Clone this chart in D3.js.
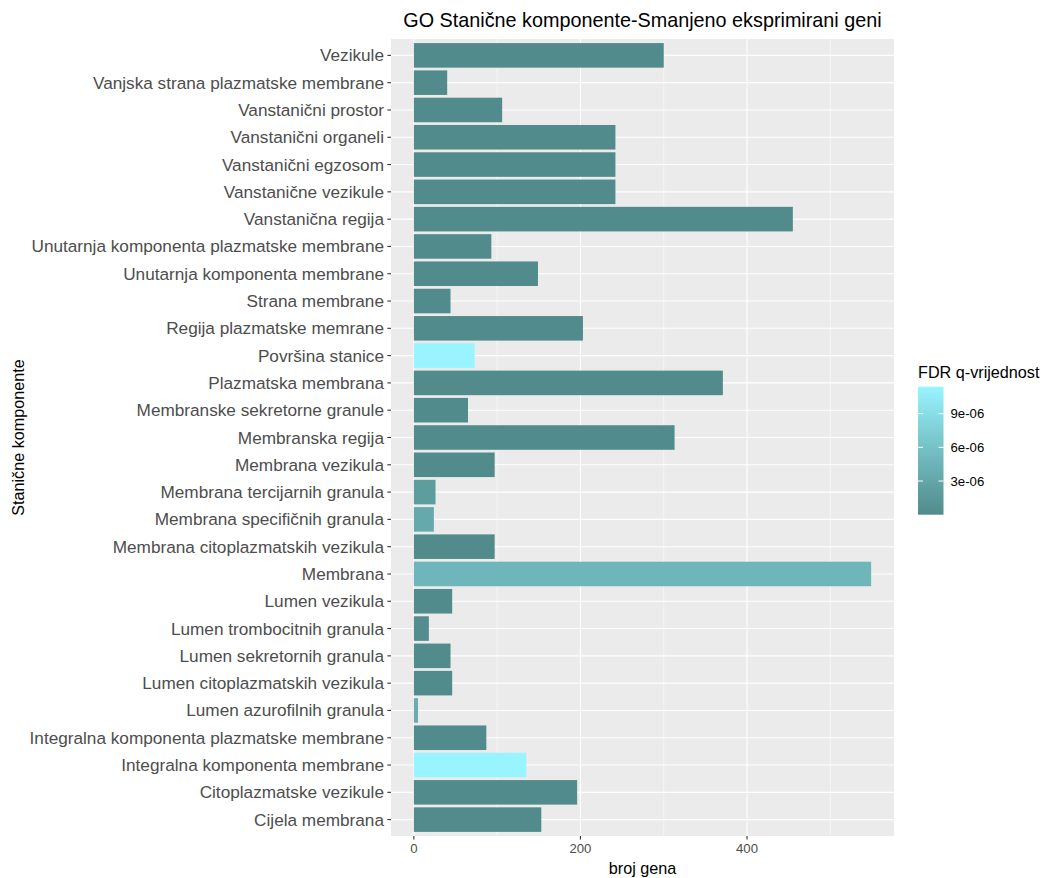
<!DOCTYPE html>
<html><head><meta charset="utf-8">
<script src="https://cdn.jsdelivr.net/npm/d3@7"></script>
<style>body{margin:0;background:#fff;} text{font-family:"Liberation Sans",Arial,sans-serif;}</style>
</head><body>
<svg id="c" width="1041" height="878"></svg>
<script>
// Categories listed top to bottom
const categories = [
  "Vezikule","Vanjska strana plazmatske membrane","Vanstanični prostor","Vanstanični organeli",
  "Vanstanični egzosom","Vanstanične vezikule","Vanstanična regija",
  "Unutarnja komponenta plazmatske membrane","Unutarnja komponenta membrane","Strana membrane",
  "Regija plazmatske memrane","Površina stanice","Plazmatska membrana","Membranske sekretorne granule",
  "Membranska regija","Membrana vezikula","Membrana tercijarnih granula","Membrana specifičnih granula",
  "Membrana citoplazmatskih vezikula","Membrana","Lumen vezikula","Lumen trombocitnih granula",
  "Lumen sekretornih granula","Lumen citoplazmatskih vezikula","Lumen azurofilnih granula",
  "Integralna komponenta plazmatske membrane","Integralna komponenta membrane",
  "Citoplazmatske vezikule","Cijela membrana"
];
const counts = [300,40,106,242,242,242,455,93,149,44,203,73,371,65,313,97,26,24,97,549,46,18,44,46,5,87,135,196,153];
const qvalues = [2e-8,3e-8,2e-8,1e-8,1e-8,1e-8,1e-9,5e-8,3e-8,4e-8,2e-8,1.14e-5,1e-9,5e-8,1e-9,3e-8,2.0e-6,3.4e-6,3e-8,4.8e-6,4e-8,2e-7,5e-8,4e-8,3.8e-6,2e-8,1.14e-5,1e-9,2e-8];
const xTicks = [0,200,400];
const xMinor = [100,300,500];
const legendTicks = [3e-6,6e-6,9e-6];
const legendLabels = ["3e-06","6e-06","9e-06"];
const qMin = 0, qMax = 1.14e-5;

const svg = d3.select("#c");
const P = {l:391, r:894, t:39, b:836};

const maxV = d3.max(counts);
const x = d3.scaleLinear().domain([-0.05*maxV, maxV*1.05]).range([P.l, P.r]);
const y = d3.scalePoint().domain(categories).range([P.t, P.b]).padding(0.6);
const step = y.step();
const col = d3.scaleLinear().domain([qMin, qMax]).range(["#528B8B","#98F5FF"]).interpolate(d3.interpolateLab);

// panel
svg.append("rect").attr("x",P.l).attr("y",P.t).attr("width",P.r-P.l).attr("height",P.b-P.t).attr("fill","#EBEBEB");
// minor grid
svg.selectAll(".mn").data(xMinor).enter().append("line")
  .attr("x1",d=>x(d)).attr("x2",d=>x(d)).attr("y1",P.t).attr("y2",P.b)
  .attr("stroke","#fff").attr("stroke-width",0.55);
// major grid
svg.selectAll(".mx").data(xTicks).enter().append("line")
  .attr("x1",d=>x(d)).attr("x2",d=>x(d)).attr("y1",P.t).attr("y2",P.b)
  .attr("stroke","#fff").attr("stroke-width",1.1);
svg.selectAll(".my").data(categories).enter().append("line")
  .attr("x1",P.l).attr("x2",P.r).attr("y1",d=>y(d)).attr("y2",d=>y(d))
  .attr("stroke","#fff").attr("stroke-width",1.1);

// bars
svg.selectAll(".bar").data(categories).enter().append("rect")
  .attr("x",x(0)).attr("y",d=>y(d)-0.45*step)
  .attr("width",(d,i)=>x(counts[i])-x(0)).attr("height",0.9*step)
  .attr("fill",(d,i)=>col(qvalues[i]));

// y axis
const ya = svg.append("g");
ya.selectAll("line").data(categories).enter().append("line")
  .attr("x1",P.l-3.6).attr("x2",P.l).attr("y1",d=>y(d)).attr("y2",d=>y(d))
  .attr("stroke","#333").attr("stroke-width",1.1);
ya.selectAll("text").data(categories).enter().append("text")
  .attr("x",P.l-7).attr("y",d=>y(d)).attr("dy","0.35em").attr("text-anchor","end")
  .attr("font-size",17.2).attr("fill","#4D4D4D").text(d=>d);

// x axis
const xa = svg.append("g");
xa.selectAll("line").data(xTicks).enter().append("line")
  .attr("x1",d=>x(d)).attr("x2",d=>x(d)).attr("y1",P.b).attr("y2",P.b+3.6)
  .attr("stroke","#333").attr("stroke-width",1.1);
xa.selectAll("text").data(xTicks).enter().append("text")
  .attr("x",d=>x(d)).attr("y",P.b+17).attr("text-anchor","middle")
  .attr("font-size",13.2).attr("fill","#4D4D4D").text(d=>d);

// axis titles
svg.append("text").attr("x",(P.l+P.r)/2).attr("y",874).attr("text-anchor","middle")
  .attr("font-size",16.2).attr("fill","#000").text("broj gena");
svg.append("text").attr("transform",`translate(24,${(P.t+P.b)/2}) rotate(-90)`).attr("text-anchor","middle")
  .attr("font-size",16.2).attr("fill","#000").text("Stanične komponente");
// title
svg.append("text").attr("x",(P.l+P.r)/2).attr("y",27).attr("text-anchor","middle")
  .attr("font-size",19.8).attr("fill","#000").text("GO Stanične komponente-Smanjeno eksprimirani geni");

// legend
const L = {x:918, w:25.5, top:386.7, bot:514.7};
const ly = d3.scaleLinear().domain([qMin,qMax]).range([L.bot, L.top]);
const grad = svg.append("defs").append("linearGradient").attr("id","g").attr("x1",0).attr("x2",0).attr("y1",1).attr("y2",0);
d3.range(0,1.0001,0.05).forEach(t=>grad.append("stop").attr("offset",t).attr("stop-color",col(qMin+t*(qMax-qMin))));
svg.append("text").attr("x",L.x).attr("y",378).attr("font-size",16.2).attr("fill","#000").text("FDR q-vrijednost");
svg.append("rect").attr("x",L.x).attr("y",L.top).attr("width",L.w).attr("height",L.bot-L.top).attr("fill","url(#g)");
legendTicks.forEach((v,i)=>{
  const yy = ly(v);
  svg.append("line").attr("x1",L.x).attr("x2",L.x+5).attr("y1",yy).attr("y2",yy).attr("stroke","#fff").attr("stroke-width",1);
  svg.append("line").attr("x1",L.x+L.w-5).attr("x2",L.x+L.w).attr("y1",yy).attr("y2",yy).attr("stroke","#fff").attr("stroke-width",1);
  svg.append("text").attr("x",L.x+L.w+7).attr("y",yy).attr("dy","0.35em").attr("font-size",13.2).attr("fill","#000").text(legendLabels[i]);
});
</script>
</body></html>
